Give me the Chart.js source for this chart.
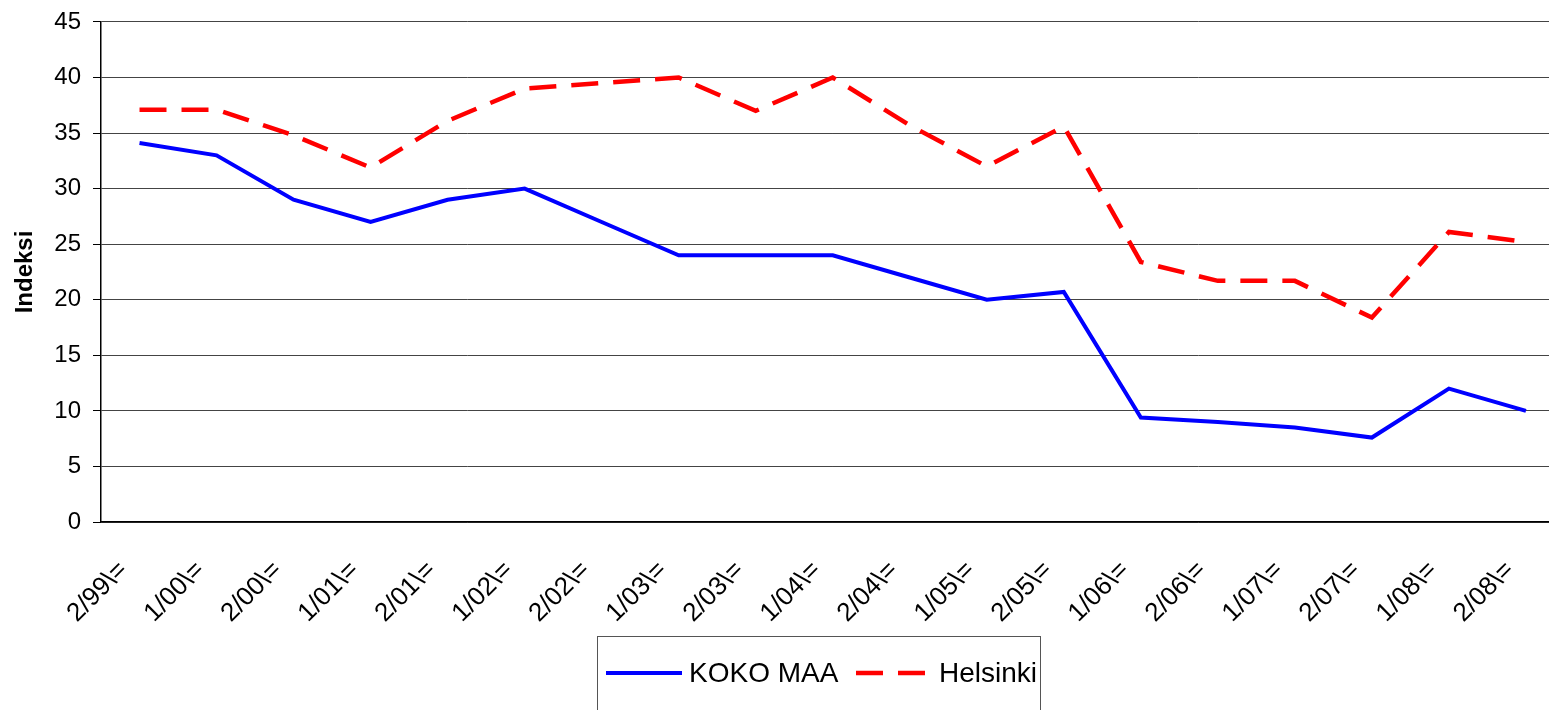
<!DOCTYPE html>
<html>
<head>
<meta charset="utf-8">
<script src="https://cdn.jsdelivr.net/npm/chart.js@4.4.1/dist/chart.umd.min.js"></script>
<style>
  html, body { margin: 0; padding: 0; background: #fff; overflow: hidden; }
  #wrap { position: relative; width: 1581px; height: 710px; }
  #legend {
    position: absolute; left: 597px; top: 636px; width: 444px; height: 90px;
    border: 1px solid #555; box-sizing: border-box;
    font-family: "Liberation Sans", Arial, sans-serif; font-size: 28px; color: #000;
  }
  #legend .item { position: absolute; top: 20px; display: flex; align-items: center; white-space: nowrap; }
  #legend svg { margin-right: 7px; }
</style>
</head>
<body>
<div id="wrap">
  <canvas id="line-chart" width="1581" height="710"></canvas>
  <div id="legend"></div>
</div>
<script>
var kaudet = ["2/99\\=", "1/00\\=", "2/00\\=", "1/01\\=", "2/01\\=", "1/02\\=", "2/02\\=", "1/03\\=", "2/03\\=", "1/04\\=",
              "2/04\\=", "1/05\\=", "2/05\\=", "1/06\\=", "2/06\\=", "1/07\\=", "2/07\\=", "1/08\\=", "2/08\\="];
var kokoMaa = [34.1, 33.0, 29.0, 27.0, 29.0, 30.0, 27.0, 24.0, 24.0, 24.0, 22.0, 20.0, 20.7, 9.4, 9.0, 8.5, 7.6, 12.0, 10.0];
var helsinki = [37.1, 37.1, 34.8, 31.9, 36.1, 39.0, 39.5, 40.0, 37.0, 40.0, 35.7, 32.0, 35.6, 23.4, 21.7, 21.7, 18.4, 26.1, 25.2];
var yTicks = { min: 0, max: 45, step: 5 };

var fontName = "'Liberation Sans', Arial, sans-serif";

var chart = new Chart(document.getElementById("line-chart"), {
    type: 'line',
    data: {
        labels: kaudet,
        datasets: [
            {
                label: "KOKO MAA",
                data: kokoMaa,
                borderColor: "#0000ff",
                borderWidth: 4,
                pointRadius: 0,
                tension: 0,
                fill: false
            },
            {
                label: "Helsinki",
                data: helsinki,
                borderColor: "#ff0000",
                borderWidth: 4.5,
                borderDash: [27, 15],
                pointRadius: 0,
                tension: 0,
                fill: false
            }
        ]
    },
    options: {
        responsive: false,
        animation: false,
        layout: { padding: { top: 0, left: 0, right: 0, bottom: 0 } },
        plugins: {
            legend: { display: false },
            tooltip: { enabled: false }
        },
        scales: {
            x: {
                offset: true,
                grid: { display: false, drawTicks: false },
                border: { display: true, color: "#000", width: 1.5 },
                ticks: {
                    autoSkip: false,
                    minRotation: 45,
                    maxRotation: 45,
                    padding: 33,
                    labelOffset: -16,
                    color: "#000",
                    font: { family: fontName, size: 26 }
                },
                afterFit: function (scale) { scale.height = 188; }
            },
            y: {
                min: yTicks.min,
                max: yTicks.max,
                grid: { color: "#444", lineWidth: 1, tickLength: 8, tickColor: "#000" },
                border: { display: true, color: "#000", width: 1.5 },
                ticks: {
                    stepSize: yTicks.step,
                    padding: 12,
                    color: "#000",
                    font: { family: fontName, size: 24, lineHeight: 0.83 }
                },
                title: {
                    display: true,
                    text: "Indeksi",
                    color: "#000",
                    padding: { top: 11, bottom: 0 },
                    font: { family: fontName, size: 24, weight: "bold" }
                },
                afterFit: function (scale) { scale.width = 101; }
            }
        }
    }
});

// legend in a box under the chart, built from the datasets
var legend = document.getElementById("legend");
var lefts = [8, 258];
chart.data.datasets.forEach(function (ds, i) {
    var item = document.createElement("div");
    item.className = "item";
    item.style.left = lefts[i] + "px";
    var dash = ds.borderDash ? ds.borderDash.join(",") : "none";
    item.innerHTML = '<svg width="76" height="10"><line x1="0" y1="5" x2="76" y2="5" stroke="' + ds.borderColor +
        '" stroke-width="' + ds.borderWidth + '" stroke-dasharray="' + dash + '"/></svg><span>' + ds.label + '</span>';
    legend.appendChild(item);
});
</script>
</body>
</html>
